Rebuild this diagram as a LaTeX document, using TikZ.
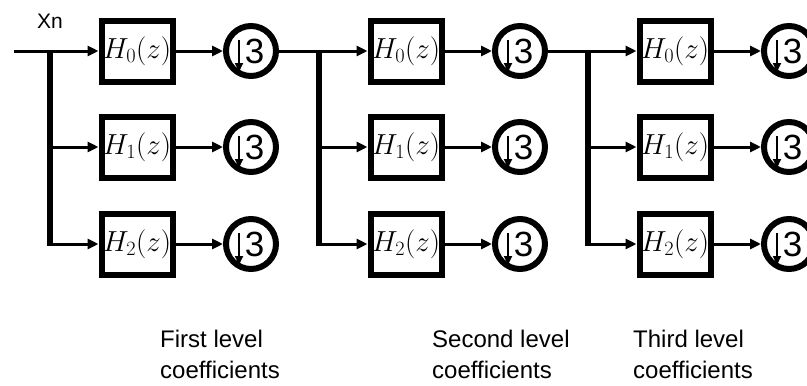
\RequirePackage{fix-cm}
\documentclass[tikz,border=0pt]{standalone}
\usepackage{fontspec}
\setmainfont{Liberation Sans}
\usetikzlibrary{arrows.meta}

\begin{document}
\begin{tikzpicture}[x=1pt,y=-1pt,
  filt/.style={draw,line width=6pt,minimum width=71pt,minimum height=61pt,inner sep=0pt,font=\fontsize{29}{29}\selectfont},
  down/.style={circle,draw,line width=6pt,minimum size=50pt,inner sep=0pt,font=\fontsize{35}{35}\selectfont},
  sig/.style={line width=3pt,-{Triangle[length=11pt,width=10pt]}},
  wire/.style={line width=3pt},
  bus/.style={line width=6pt},
  lvl/.style={align=left,anchor=base west,inner sep=0pt,font=\fontsize{24}{31}\selectfont}]
\useasboundingbox (0,0) rectangle (807,386);
\clip (0,0) rectangle (807,386);
\node[anchor=base west,inner sep=0pt,font=\fontsize{21}{21}\selectfont] (xn) at (37,28) {Xn};
% first level
\node[filt] (h10) at (137,51) {$H_0(z)$};
\node[filt] (h11) at (137,147) {$H_1(z)$};
\node[filt] (h12) at (137,244) {$H_2(z)$};
\node[down] (d10) at (251,51) {\hspace{7pt}\raisebox{-3pt}{3}};
\node[down] (d11) at (251,147) {\hspace{7pt}\raisebox{-3pt}{3}};
\node[down] (d12) at (251,244) {\hspace{7pt}\raisebox{-3pt}{3}};
% second level
\node[filt] (h20) at (406,51) {$H_0(z)$};
\node[filt] (h21) at (406,147) {$H_1(z)$};
\node[filt] (h22) at (406,244) {$H_2(z)$};
\node[down] (d20) at (520,51) {\hspace{7pt}\raisebox{-3pt}{3}};
\node[down] (d21) at (520,147) {\hspace{7pt}\raisebox{-3pt}{3}};
\node[down] (d22) at (520,244) {\hspace{7pt}\raisebox{-3pt}{3}};
% third level
\node[filt] (h30) at (675,51) {$H_0(z)$};
\node[filt] (h31) at (675,147) {$H_1(z)$};
\node[filt] (h32) at (675,244) {$H_2(z)$};
\node[down] (d30) at (789,51) {\hspace{7pt}\raisebox{-3pt}{3}};
\node[down] (d31) at (789,147) {\hspace{7pt}\raisebox{-3pt}{3}};
\node[down] (d32) at (789,244) {\hspace{7pt}\raisebox{-3pt}{3}};
\coordinate (in) at (14,51);
\coordinate (s1) at (50,51); \coordinate (e1) at (50,244);
\coordinate (s2) at (319,51); \coordinate (e2) at (319,244);
\coordinate (s3) at (588,51); \coordinate (e3) at (588,244);
\draw[sig] (in)--(h10); \draw[wire] (d10)--(s2); \draw[sig] (s2)--(h20); \draw[wire] (d20)--(s3); \draw[sig] (s3)--(h30);
\draw[bus] (s1)--([yshift=-1.5pt]e1); \draw[bus] (s2)--([yshift=-1.5pt]e2); \draw[bus] (s3)--([yshift=-1.5pt]e3);
\draw[sig] (h11 -| s1)--(h11); \draw[sig] (e1)--(h12);
\draw[sig] (h21 -| s2)--(h21); \draw[sig] (e2)--(h22);
\draw[sig] (h31 -| s3)--(h31); \draw[sig] (e3)--(h32);
\draw[sig] (h10)--(d10); \draw[sig] (h11)--(d11); \draw[sig] (h12)--(d12);
\draw[sig] (h20)--(d20); \draw[sig] (h21)--(d21); \draw[sig] (h22)--(d22);
\draw[sig] (h30)--(d30); \draw[sig] (h31)--(d31); \draw[sig] (h32)--(d32);
% the down arrows in the circles
\foreach \d in {d10,d11,d12,d20,d21,d22,d30,d31,d32}
  \draw[line width=2pt,-{Triangle[length=9pt,width=8pt]}] ([shift={(-12,-11)}]\d.center)--++(0,32);
\node[lvl] (l1) at (160,378) {First level\\coefficients};
\node[lvl] (l2) at (432,378) {Second level\\coefficients};
\node[lvl] (l3) at (633,378) {Third level\\coefficients};
\end{tikzpicture}
\end{document}
